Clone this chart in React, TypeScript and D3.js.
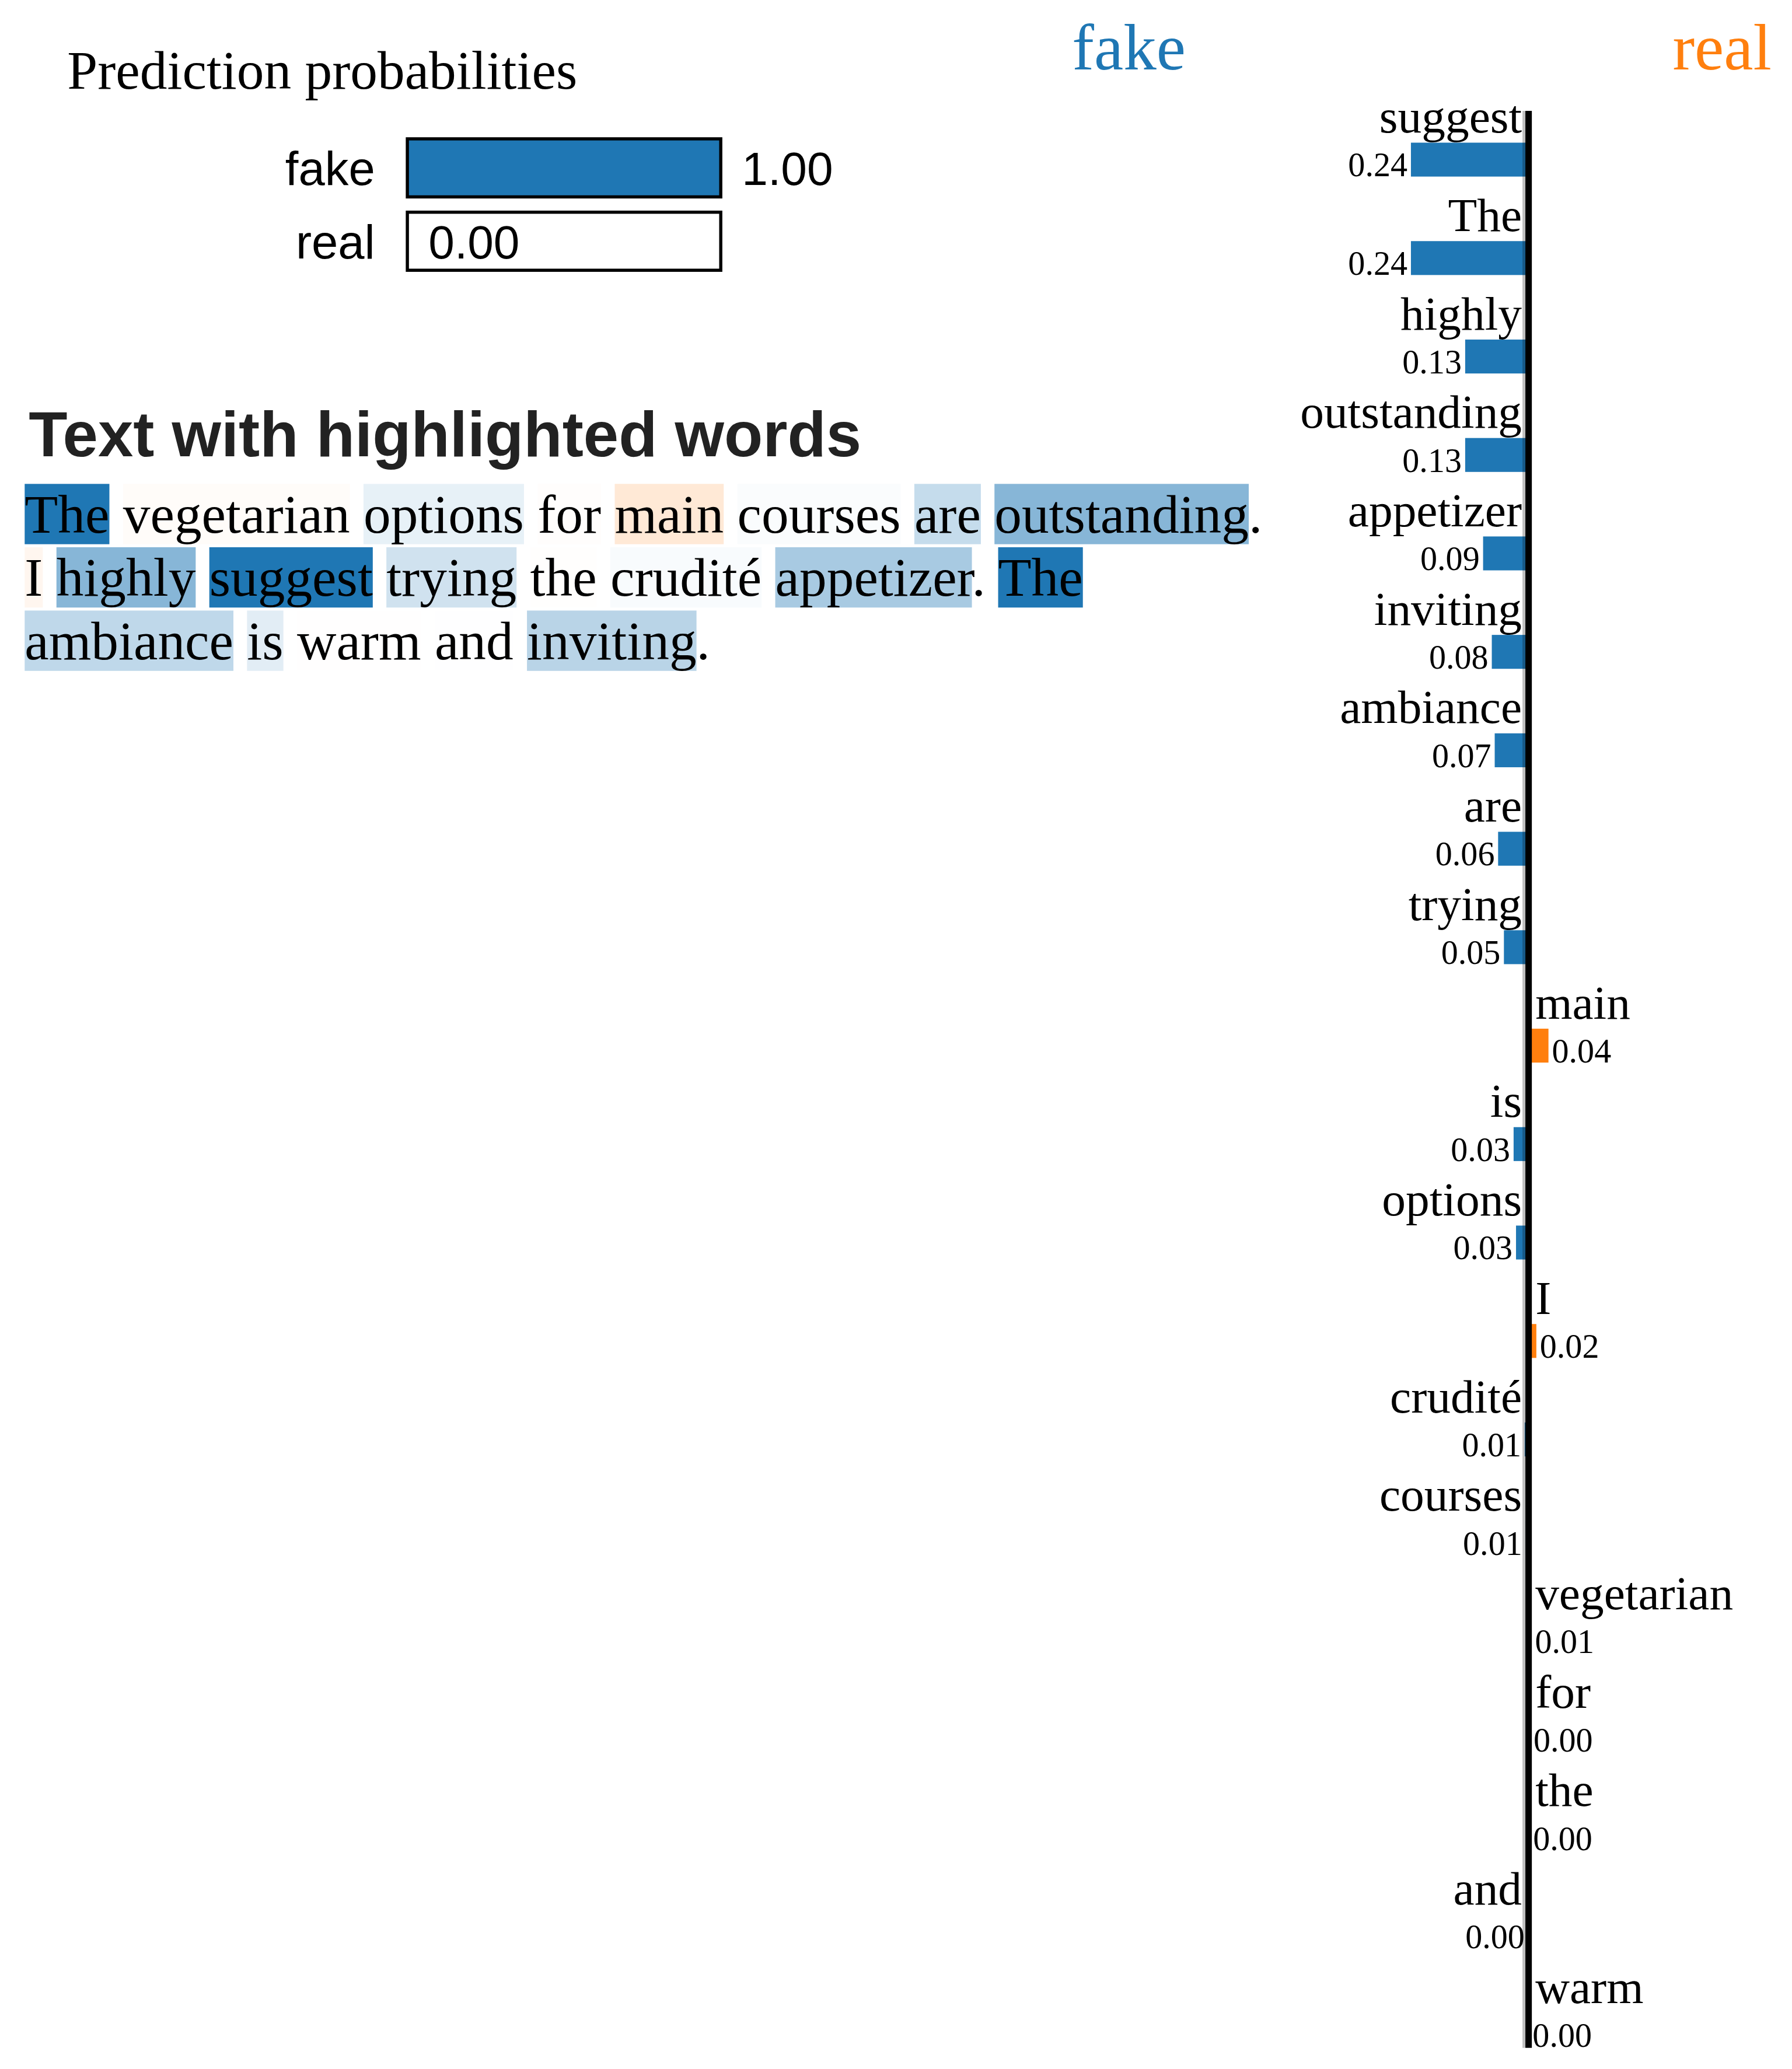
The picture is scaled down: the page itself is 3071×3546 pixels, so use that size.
import React, { useEffect, useRef } from 'react';
import * as d3 from 'd3';

// classes and the model's prediction
const classNames = ['fake', 'real'];
const classColors = ['#1f77b4', '#ff7f0e'];
const probabilities = [1.0, 0.0];

// explanation: word and weight (negative pushes to "fake", positive to "real")
const featureWords = [
  'suggest', 'The', 'highly', 'outstanding', 'appetizer', 'inviting', 'ambiance', 'are', 'trying', 'main',
  'is', 'options', 'I', 'crudité', 'courses', 'vegetarian', 'for', 'the', 'and', 'warm',
];
const featureWeights = [
  -0.243, -0.243, -0.131, -0.131, -0.094, -0.076, -0.07, -0.063, -0.051, 0.041,
  -0.031, -0.026, 0.016, -0.008, -0.006, 0.006, 0.003, 0.002, -0.001, 0.001,
];

// the instance text, wrapped as on the page
const textLines = [
  'The vegetarian options for main courses are outstanding.',
  'I highly suggest trying the crudité appetizer. The',
  'ambiance is warm and inviting.',
];

const SERIF = '"Liberation Serif", "Times New Roman", serif';
const SANS = '"Liberation Sans", Arial, sans-serif';

const App = () => {
  const svgRef = useRef(null);

  useEffect(() => {
    const svg = d3.select(svgRef.current);
    svg.selectAll('*').remove();

    // ---- prediction probabilities
    svg.append('text')
      .attr('x', 51).attr('y', 67)
      .style('font-family', SERIF).style('font-size', '41.3px')
      .text('Prediction probabilities');

    const barX = 308.7;
    const barH = 44;
    const probX = d3.scaleLinear().domain([0, 1]).range([0, 237.5]);
    const probY = d3.scaleLinear().domain([0, 1]).range([105.2, 160.8]);

    classNames.forEach((name, i) => {
      const y = probY(i);
      svg.append('rect')
        .attr('x', barX).attr('y', y)
        .attr('width', probX(probabilities[i])).attr('height', barH)
        .style('fill', classColors[i]);
      svg.append('rect')
        .attr('x', barX).attr('y', y)
        .attr('width', probX(1)).attr('height', barH)
        .attr('fill', 'none').attr('stroke', '#000').attr('stroke-width', 2.4);
      svg.append('text')
        .attr('x', barX + probX(probabilities[i]) + 16)
        .attr('y', y + barH - 9)
        .style('font-family', SANS).style('font-size', '35.5px')
        .text(probabilities[i].toFixed(2));
      svg.append('text')
        .attr('x', barX - 24.5)
        .attr('y', y + barH - 9)
        .attr('text-anchor', 'end')
        .style('font-family', SANS).style('font-size', '36px')
        .text(name);
    });

    // ---- text with highlighted words
    svg.append('text')
      .attr('x', 21.8).attr('y', 346)
      .style('font-family', SANS).style('font-size', '48px').style('font-weight', 'bold')
      .style('fill', '#222')
      .text('Text with highlighted words');

    const fs = 41.3;
    const weightByWord = new Map(featureWords.map((w, i) => [w, featureWeights[i]]));
    const maxWeight = d3.max(featureWeights, d => Math.abs(d));
    const lineY = d3.scaleLinear().domain([0, 1]).range([403.5, 451.5]);

    textLines.forEach((line, li) => {
      const g = svg.append('g');
      const baseline = lineY(li);
      const t = g.append('text')
        .attr('x', 18.7).attr('y', baseline)
        .style('font-family', SERIF).style('font-size', fs + 'px')
        .text(line);
      const node = t.node();
      const re = /\p{L}+/gu;
      let m;
      while ((m = re.exec(line))) {
        const wt = weightByWord.get(m[0]);
        if (wt === undefined) continue;
        const x0 = node.getStartPositionOfChar(m.index).x;
        const w = node.getSubStringLength(m.index, m[0].length);
        const c = d3.color(classColors[wt > 0 ? 1 : 0]);
        c.opacity = Math.abs(wt) / maxWeight;
        g.insert('rect', 'text')
          .attr('x', x0).attr('y', baseline - 0.891 * fs)
          .attr('width', w).attr('height', 1.107 * fs)
          .style('fill', c.formatRgb());
      }
    });

    // ---- feature weights bar chart
    const axisX = 1158.4;
    const xScale = d3.scaleLinear().domain([0, 1]).range([0, 367]);
    const rowY = d3.scaleLinear().domain([0, featureWords.length]).range([59.3, 1551.5]);

    svg.append('text')
      .attr('x', 855.5).attr('y', 52.8).attr('text-anchor', 'middle')
      .style('font-family', SERIF).style('font-size', '50px')
      .style('fill', classColors[0]).text(classNames[0]);
    svg.append('text')
      .attr('x', 1305).attr('y', 52.8).attr('text-anchor', 'middle')
      .style('font-family', SERIF).style('font-size', '50px')
      .style('fill', classColors[1]).text(classNames[1]);

    featureWords.forEach((word, i) => {
      const wt = featureWeights[i];
      const size = xScale(Math.abs(wt));
      const right = wt > 0;
      svg.append('text')
        .attr('x', right ? axisX + 5.1 : axisX - 5.1)
        .attr('y', rowY(i) + 41.1)
        .attr('text-anchor', right ? 'start' : 'end')
        .style('font-family', SERIF).style('font-size', '36px')
        .text(word);
      svg.append('rect')
        .attr('x', right ? axisX : axisX - size)
        .attr('y', rowY(i) + 48.8)
        .attr('width', size).attr('height', 25.7)
        .style('fill', right ? classColors[1] : classColors[0]);
      svg.append('text')
        .attr('x', right ? axisX + size + 2.6 : axisX - size - 2.6)
        .attr('y', rowY(i) + 74.4)
        .attr('text-anchor', right ? 'start' : 'end')
        .style('font-family', SERIF).style('font-size', '25.7px')
        .text(Math.abs(wt).toFixed(2));
    });

    svg.append('line')
      .attr('x1', axisX - 3.5).attr('x2', axisX - 3.5)
      .attr('y1', 84).attr('y2', 1552)
      .style('stroke', '#000').style('stroke-opacity', 0.25).style('stroke-width', 2.3);
    svg.append('line')
      .attr('x1', axisX).attr('x2', axisX)
      .attr('y1', 84).attr('y2', 1552)
      .style('stroke', '#000').style('stroke-width', 4.9);
  }, []);

  return (
    <svg
      ref={svgRef}
      width={3071}
      height={3546}
      viewBox="0 0 1358 1568"
      style={{ position: 'absolute', left: 0, top: 0, background: '#fff' }}
    ></svg>
  );
};

export default App;
